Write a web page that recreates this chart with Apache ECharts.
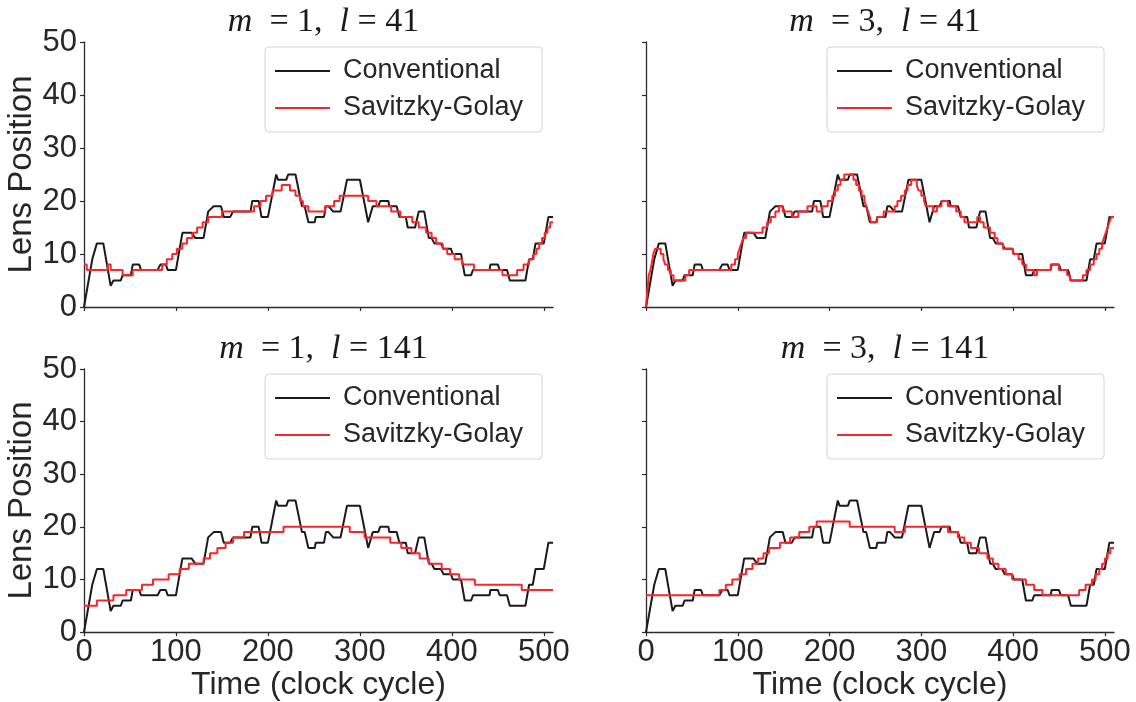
<!DOCTYPE html>
<html>
<head>
<meta charset="utf-8">
<script src="https://cdn.jsdelivr.net/npm/echarts@6/dist/echarts.min.js"></script>
<style>
html, body { margin: 0; padding: 0; background: #fff; }
#chart { width: 1136px; height: 702px; }
</style>
</head>
<body>
<div id="chart"></div>
<script>
// 传统方法 (same curve in every panel), [clock cycle, lens position]
var conventional = [
  [0,0],[9,9],[10,9],[14,12],[21,12],[29,4],[32,5],[40,5],[42,6],[51,6],[53,8],[60,8],[62,7],[80,7],
  [83,8],[89,8],[91,7],[100,7],[107,14],[117,14],[121,13],[130,13],[135,18],[141,19],[149,19],[152,17],
  [159,17],[162,18],[181,18],[183,20],[190,20],[193,17],[200,17],[209,25],[211,24],[220,24],[222,25],
  [230,25],[237,19],[240,19],[244,16],[251,16],[252,17],[261,17],[263,19],[266,19],[271,18],[279,18],
  [286,24],[300,24],[309,16],[314,19],[320,19],[322,20],[331,20],[332,19],[340,19],[343,17],[350,17],
  [352,15],[360,15],[364,18],[370,18],[375,13],[378,13],[381,12],[388,12],[391,11],[399,11],[401,10],
  [410,10],[414,6],[421,6],[423,7],[441,7],[442,8],[450,8],[452,7],[460,7],[463,5],[480,5],[484,9],
  [488,9],[491,12],[500,12],[505,17],[510,17]
];

// Savitzky-Golay, step change points [x, value]
var sgM1L41 = [
  [0,8],[3,7],[26,8],[29,7],[42,6],[53,7],[85,8],[90,9],[96,10],[101,11],[107,12],[112,13],[118,14],
  [123,15],[129,16],[135,17],[150,18],[185,19],[192,20],[198,21],[205,22],[215,23],[224,22],[230,21],
  [235,20],[238,19],[244,18],[262,19],[272,20],[278,21],[309,20],[318,19],[334,18],[344,17],[357,16],
  [364,15],[372,14],[378,13],[383,12],[390,11],[395,10],[403,9],[411,8],[424,7],[455,6],[471,7],[478,8],
  [484,9],[489,10],[492,11],[495,12],[498,13],[501,14],[504,15],[507,16],[510,16]
];
var sgM3L41 = [
  [0,0],[1,2],[2,4],[3,6],[5,7],[6,8],[7,9],[8,10],[10,11],[16,10],[19,9],[21,8],[24,7],[27,6],[30,5],
  [43,6],[47,7],[93,8],[97,9],[100,10],[102,11],[104,12],[106,13],[109,14],[127,15],[132,16],[136,17],
  [141,18],[145,19],[149,18],[159,17],[166,18],[176,19],[186,18],[192,19],[198,20],[203,21],[206,22],
  [209,23],[212,24],[216,25],[226,24],[229,23],[232,22],[235,21],[238,20],[240,19],[242,18],[244,17],
  [245,16],[252,17],[259,18],[271,19],[274,20],[278,21],[282,22],[285,23],[289,24],[295,23],[297,22],
  [300,21],[303,20],[305,19],[313,18],[317,19],[322,20],[329,19],[338,18],[343,17],[347,16],[361,17],
  [364,16],[368,15],[375,14],[380,13],[383,12],[389,11],[400,10],[406,9],[410,8],[414,7],[423,6],
  [426,7],[441,8],[450,7],[459,6],[462,5],[476,6],[480,7],[484,8],[488,9],[491,10],[494,11],[497,12],
  [499,13],[501,14],[503,15],[505,16],[507,17],[510,17]
];
var sgM1L141 = [
  [0,5],[14,6],[32,7],[46,8],[63,9],[75,10],[92,11],[104,12],[114,13],[130,14],[137,15],[145,16],
  [154,17],[162,18],[174,19],[217,20],[289,19],[305,18],[333,17],[345,16],[356,15],[365,14],[375,13],
  [389,12],[398,11],[408,10],[425,9],[476,8],[510,8]
];
var sgM3L141 = [
  [0,7],[80,8],[87,9],[94,10],[102,11],[109,12],[116,13],[122,14],[128,15],[134,16],[146,17],[157,18],
  [167,19],[178,20],[186,21],[222,20],[271,19],[282,20],[329,19],[340,18],[347,17],[354,16],[363,15],
  [372,14],[378,13],[384,12],[392,11],[399,10],[414,9],[423,8],[432,7],[472,8],[479,9],[486,10],
  [490,11],[494,12],[497,13],[500,14],[503,15],[506,16],[510,16]
];

var xTicks = [0, 100, 200, 300, 400, 500];
var panelTitles = [['1', '41'], ['3', '41'], ['1', '141'], ['3', '141']];
var sgData = [sgM1L41, sgM3L41, sgM1L141, sgM3L141];

var myChart = echarts.init(document.getElementById('chart'));
var sans = 'Liberation Sans';
var txtColor = '#262626';
var axisColor = '#2b2b2b';

var grids = [
  { left: 84, top: 42, width: 469, height: 265 },
  { left: 646, top: 42, width: 468, height: 265 },
  { left: 84, top: 369, width: 469, height: 265 },
  { left: 646, top: 369, width: 468, height: 265 }
];

var xAxes = [], yAxes = [], series = [], titles = [], legends = [];
for (var i = 0; i < 4; i++) {
  var g = grids[i];
  var isBottom = i >= 2;
  var isLeft = i % 2 == 0;
  xAxes.push({
    type: 'value', gridIndex: i, min: 0, max: 510,
    name: isBottom ? 'Time (clock cycle)' : '',
    nameLocation: 'middle', nameGap: 36,
    nameTextStyle: { fontFamily: sans, fontSize: 32, color: txtColor },
    axisLine: { show: true, lineStyle: { color: axisColor, width: 1.3 } },
    axisTick: { show: true, length: 4, customValues: xTicks, lineStyle: { color: axisColor, width: 1.2 } },
    axisLabel: { show: isBottom, customValues: xTicks, margin: 5, fontFamily: sans, fontSize: 31, color: txtColor },
    splitLine: { show: false }
  });
  yAxes.push({
    type: 'value', gridIndex: i, min: 0, max: 50, interval: 10,
    name: isLeft ? 'Lens Position' : '',
    nameLocation: 'middle', nameGap: 44,
    nameTextStyle: { fontFamily: sans, fontSize: 33, color: txtColor },
    axisLine: { show: true, lineStyle: { color: axisColor, width: 1.3 } },
    axisTick: { show: true, length: 4, lineStyle: { color: axisColor, width: 1.2 } },
    axisLabel: { show: isLeft, margin: 7, fontFamily: sans, fontSize: 31, color: txtColor },
    splitLine: { show: false }
  });
  series.push({
    name: 'Conventional', type: 'line', xAxisIndex: i, yAxisIndex: i,
    data: conventional, symbol: 'none', animation: false,
    lineStyle: { color: '#1a1a1a', width: 2 }, itemStyle: { color: '#1a1a1a' }
  });
  series.push({
    name: 'Savitzky-Golay', type: 'line', xAxisIndex: i, yAxisIndex: i,
    data: sgData[i], step: 'end', symbol: 'none', animation: false,
    lineStyle: { color: '#f8252b', width: 2 }, itemStyle: { color: '#f8252b' }
  });
  titles.push({
    text: '{i|m}  = ' + panelTitles[i][0] + ',  {i|l} = ' + panelTitles[i][1],
    left: g.left + g.width / 2, top: g.top - 42, textAlign: 'center',
    textStyle: {
      fontFamily: 'Liberation Serif', fontSize: 34, fontWeight: 'normal', color: '#1a1a1a',
      rich: { i: { fontFamily: 'Liberation Serif', fontStyle: 'italic', fontSize: 34, color: '#1a1a1a' } }
    }
  });
  legends.push({
    data: ['Conventional', 'Savitzky-Golay'],
    left: g.left + 181, top: g.top + 5,
    orient: 'vertical', itemGap: 7, itemWidth: 55, itemHeight: 2, icon: 'rect',
    padding: [9, 19, 9, 10],
    backgroundColor: '#fff', borderColor: '#d4d4d4', borderWidth: 1, borderRadius: 4,
    selectedMode: false,
    textStyle: { fontFamily: sans, fontSize: 27, color: txtColor, lineHeight: 30, padding: [0, 0, 0, 8] }
  });
}

var option = {
  backgroundColor: '#fff',
  animation: false,
  title: titles,
  legend: legends,
  grid: grids,
  xAxis: xAxes,
  yAxis: yAxes,
  series: series
};
myChart.setOption(option);
</script>
</body>
</html>
